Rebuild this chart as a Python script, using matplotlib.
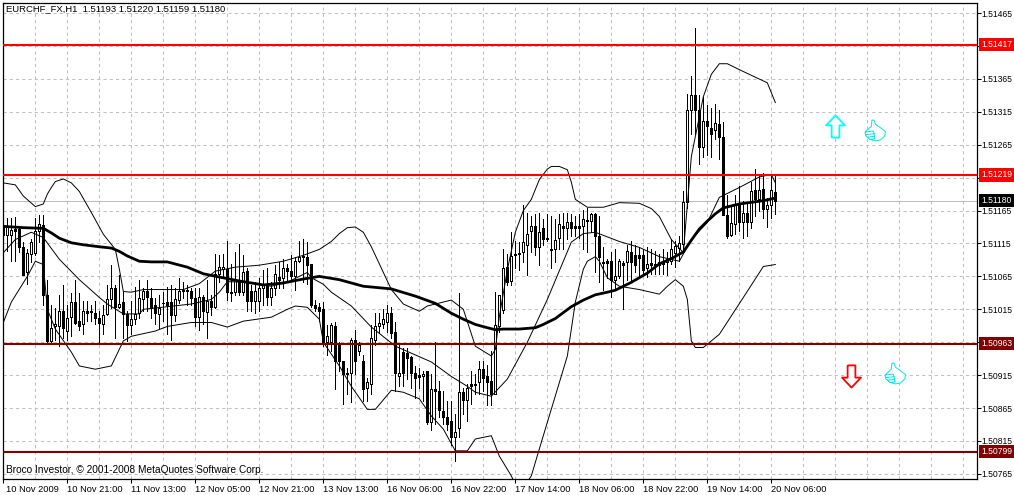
import matplotlib
matplotlib.use("Agg")
import matplotlib.pyplot as plt
from matplotlib.path import Path
from matplotlib.transforms import ScaledTranslation, blended_transform_factory

BASE = 1.5
PT = 0.00001

# candles, in points above 1.50000, one hour per bar
opens = [
    1143, 1128, 1128, 1137, 1137, 1109, 1071, 1099, 1101, 1134, 1143, 1037, 967, 989, 989, 1012,
    982, 1004, 1026, 997, 992, 1013, 1012, 1009, 1002, 992, 1008, 1031, 1048, 1018, 1026, 1008,
    991, 1001, 1009, 1031, 1043, 1032, 1021, 1008, 1025, 1026, 1026, 1007, 1029, 1044, 1044, 1043,
    1032, 1004, 1034, 1011, 1027, 1018, 1068, 1076, 1076, 1042, 1042, 1059, 1042, 1073, 1043, 1028,
    1028, 1047, 1052, 1034, 1047, 1064, 1062, 1078, 1073, 1066, 1088, 1096, 1094, 1084, 1022, 1019,
    1016, 966, 966, 990, 964, 936, 916, 919, 969, 952, 936, 896, 901, 969, 989, 993,
    996, 1009, 981, 914, 950, 949, 942, 919, 915, 914, 921, 844, 894, 891, 861, 851,
    845, 821, 834, 889, 877, 901, 900, 904, 924, 914, 906, 886, 989, 1014, 1079, 1058,
    1099, 1100, 1102, 1112, 1134, 1142, 1110, 1138, 1123, 1107, 1107, 1123, 1142, 1139, 1148, 1141,
    1141, 1141, 1151, 1149, 1159, 1126, 1087, 1088, 1089, 1059, 1066, 1086, 1087, 1102, 1097, 1097,
    1097, 1077, 1085, 1084, 1083, 1087, 1087, 1089, 1100, 1108, 1114, 1178, 1317, 1340, 1317, 1262,
    1301, 1291, 1288, 1296, 1276, 1158, 1128, 1145, 1175, 1148, 1162, 1147, 1196, 1182, 1198, 1167,
    1173, 1193,
]
highs = [
    1144, 1154, 1153, 1155, 1142, 1117, 1107, 1122, 1154, 1158, 1158, 1059, 1022, 1017, 1037, 1052,
    1022, 1039, 1059, 1039, 1027, 1027, 1022, 1027, 1012, 1022, 1052, 1083, 1052, 1067, 1042, 1012,
    1027, 1049, 1059, 1047, 1059, 1047, 1032, 1037, 1042, 1049, 1052, 1047, 1062, 1057, 1052, 1047,
    1047, 1047, 1037, 1059, 1037, 1099, 1097, 1099, 1118, 1084, 1102, 1114, 1097, 1077, 1052, 1057,
    1062, 1074, 1077, 1057, 1082, 1087, 1092, 1084, 1097, 1094, 1119, 1122, 1117, 1084, 1029, 1024,
    1026, 991, 994, 996, 966, 936, 926, 971, 984, 966, 946, 911, 991, 1009, 1009, 1016,
    1021, 1019, 996, 961, 956, 956, 944, 929, 926, 921, 921, 916, 966, 906, 891, 876,
    876, 856, 1040, 896, 901, 921, 916, 936, 936, 931, 951, 1041, 1037, 1107, 1099, 1133,
    1119, 1117, 1174, 1162, 1157, 1159, 1161, 1152, 1159, 1157, 1152, 1159, 1161, 1161, 1159, 1157,
    1159, 1166, 1169, 1161, 1161, 1157, 1109, 1092, 1102, 1107, 1092, 1089, 1112, 1119, 1112, 1109,
    1107, 1110, 1107, 1104, 1099, 1107, 1102, 1122, 1119, 1127, 1194, 1342, 1370, 1443, 1340, 1337,
    1326, 1320, 1327, 1317, 1299, 1189, 1174, 1189, 1202, 1179, 1177, 1209, 1228, 1219, 1222, 1184,
    1219, 1220,
]
lows = [
    1117, 1104, 1089, 1089, 1102, 1067, 1054, 1087, 1097, 1117, 1022, 962, 962, 969, 959, 972,
    969, 974, 992, 984, 977, 997, 997, 992, 962, 977, 1007, 1017, 972, 1017, 972, 967,
    977, 992, 1002, 1012, 1012, 1002, 992, 987, 997, 977, 969, 997, 1024, 1032, 1022, 1022,
    989, 984, 992, 972, 1007, 1017, 1057, 1064, 1029, 1027, 1037, 1037, 1037, 1012, 1012, 1009,
    1012, 1022, 1022, 1022, 1037, 1047, 1047, 1057, 1059, 1044, 1087, 1057, 1054, 1019, 1012, 997,
    959, 946, 951, 894, 921, 871, 886, 874, 916, 946, 876, 876, 886, 961, 979, 986,
    981, 971, 891, 899, 899, 909, 896, 881, 896, 876, 841, 831, 841, 851, 841, 831,
    809, 784, 821, 856, 846, 871, 886, 886, 891, 869, 869, 886, 981, 1009, 1052, 1052,
    1077, 1074, 1087, 1067, 1102, 1097, 1082, 1112, 1119, 1077, 1087, 1107, 1107, 1122, 1127, 1127,
    1124, 1107, 1102, 1132, 1072, 1057, 1044, 1062, 1034, 1044, 1062, 1016, 1059, 1057, 1072, 1062,
    1067, 1064, 1069, 1069, 1069, 1069, 1067, 1084, 1079, 1089, 1104, 1169, 1282, 1282, 1236, 1247,
    1250, 1247, 1274, 1244, 1158, 1123, 1127, 1129, 1134, 1123, 1127, 1139, 1157, 1164, 1154, 1140,
    1154, 1159,
]
closes = [
    1128, 1141, 1135, 1134, 1109, 1067, 1100, 1117, 1134, 1144, 1037, 967, 987, 992, 1012, 987,
    1002, 1026, 994, 989, 1013, 1010, 1011, 1002, 994, 1007, 1031, 1048, 1018, 1023, 1008, 991,
    1001, 1008, 1032, 1043, 1034, 1017, 1009, 1017, 1024, 1022, 1006, 1031, 1043, 1043, 1043, 1032,
    1004, 1034, 1012, 1028, 1019, 1068, 1079, 1079, 1041, 1039, 1059, 1041, 1072, 1028, 1028, 1043,
    1047, 1052, 1034, 1047, 1068, 1059, 1078, 1073, 1066, 1088, 1094, 1094, 1082, 1022, 1017, 1012,
    966, 975, 991, 936, 936, 916, 919, 969, 936, 961, 894, 904, 971, 989, 994, 1000,
    1010, 979, 919, 919, 919, 941, 919, 911, 912, 916, 844, 894, 891, 862, 851, 841,
    821, 829, 889, 877, 895, 898, 902, 924, 911, 904, 886, 991, 1036, 1078, 1057, 1096,
    1097, 1099, 1117, 1130, 1141, 1109, 1132, 1122, 1122, 1105, 1120, 1144, 1138, 1148, 1139, 1139,
    1139, 1152, 1149, 1159, 1126, 1094, 1086, 1086, 1059, 1066, 1088, 1083, 1104, 1087, 1082, 1093,
    1074, 1084, 1083, 1083, 1087, 1084, 1092, 1106, 1111, 1116, 1178, 1317, 1340, 1318, 1262, 1301,
    1294, 1281, 1298, 1276, 1158, 1127, 1146, 1173, 1148, 1162, 1147, 1194, 1182, 1196, 1167, 1174,
    1196, 1180,
]

# thick moving average
ma_idx = [0, 5, 10, 12, 14, 17, 20, 24, 27, 29, 31, 34, 37, 41, 46, 50, 54, 59, 65, 70, 75, 79, 84, 90, 97, 103,
          108, 112, 115, 118, 121, 123, 125, 129, 133, 135, 138, 140, 142, 145, 148, 151, 153, 155, 157, 159, 161, 164,
          167, 170, 172, 174, 176, 178, 180, 184, 190, 193]
ma_val = [1141, 1139, 1138, 1131, 1123, 1116, 1113, 1110, 1108, 1103, 1096, 1088, 1087, 1087, 1079, 1069, 1064, 1058, 1052, 1055, 1061, 1065, 1060, 1050, 1046, 1035,
          1024, 1009, 1000, 992, 987, 984, 985, 985, 987, 992, 1001, 1010, 1019, 1029, 1037, 1041, 1044, 1050, 1056, 1063, 1070, 1084,
          1092, 1102, 1120, 1137, 1149, 1160, 1169, 1175, 1180, 1184]

# thin bands
upper_idx = [0, 3, 5, 8, 10, 11, 12, 13, 15, 17, 19, 22, 25, 28, 29, 30, 32, 35, 45, 49, 53, 58, 64, 70, 75, 79, 82, 84, 86, 88, 90, 92, 97, 100, 104, 106, 112,
             115, 118, 122, 123, 124, 126, 128, 130, 132, 134, 136, 137, 139, 141, 142, 143, 146, 150, 154, 159, 162, 164, 167, 170, 172, 175, 177, 179, 181, 184, 191, 193]
upper_val = [1207, 1204, 1187, 1171, 1175, 1190, 1200, 1209, 1213, 1207, 1194, 1162, 1129, 1106, 1076, 1042, 1041, 1045, 1045, 1054, 1073, 1079, 1082, 1088, 1097, 1106, 1118, 1130, 1139, 1140, 1132, 1110, 1045, 1023, 1012, 1020, 1029,
             1015, 959, 944, 954, 1004, 1075, 1132, 1165, 1182, 1212, 1228, 1232, 1232, 1227, 1208, 1182, 1170, 1170, 1177, 1176, 1168, 1156, 1121, 1101, 1247, 1338, 1372, 1388, 1388, 1379, 1359, 1329]
middle_idx = [0, 3, 7, 10, 14, 19, 24, 26, 30, 34, 35, 47, 52, 54, 56, 61, 67, 71, 76, 77, 80, 82, 87, 92, 98, 107, 112, 116, 118, 122,
              126, 131, 136, 142, 145, 148, 154, 159, 164, 169, 172, 176, 179, 184, 189, 192, 193]
middle_val = [1101, 1121, 1132, 1124, 1091, 1060, 1033, 1023, 1008, 1008, 1015, 1023, 1030, 1041, 1057, 1056, 1050, 1056, 1071, 1063, 1053, 1041, 1020, 988, 959, 935, 913, 898, 889, 883,
              909, 965, 1030, 1117, 1130, 1132, 1118, 1109, 1095, 1088, 1121, 1147, 1185, 1200, 1216, 1220, 1207]
lower_idx = [0, 2, 6, 8, 10, 11, 13, 17, 19, 23, 27, 30, 32, 38, 41, 47, 52, 56, 60, 67, 71, 73, 76, 79, 80, 84, 87, 91, 93, 97, 100, 104, 107, 110,
             113, 116, 118, 122, 124, 127, 129, 132, 134, 141, 143, 145, 146, 148, 149, 151, 154, 159, 164, 166, 168, 170, 171, 172, 173, 175, 179, 185, 190, 193]
lower_val = [995, 1026, 1065, 1088, 1083, 1015, 985, 950, 929, 924, 929, 967, 974, 982, 989, 995, 995, 988, 997, 1003, 1015, 1020, 1018, 1000, 965, 929, 898, 863, 863, 892, 889, 879, 853, 833,
             800, 800, 818, 823, 792, 762, 735, 762, 803, 944, 1026, 1076, 1088, 1095, 1088, 1063, 1050, 1045, 1038, 1050, 1060, 1050, 1030, 967, 957, 957, 977, 1033, 1080, 1083]

# price levels and labels
red_levels = [1.51417, 1.51219]
dark_levels = [1.50963, 1.50799]
last_price = 1.51180
y_ticks = [1.51465, 1.51415, 1.51365, 1.51315, 1.51265, 1.51215, 1.51165, 1.51115, 1.51065,
           1.51015, 1.50965, 1.50915, 1.50865, 1.50815, 1.50765]
hidden_ticks = [1.51415, 1.51215, 1.50965]  # sit behind the level boxes
date_labels = ["10 Nov 2009", "10 Nov 21:00", "11 Nov 13:00", "12 Nov 05:00", "12 Nov 21:00",
               "13 Nov 13:00", "16 Nov 06:00", "16 Nov 22:00", "17 Nov 14:00", "18 Nov 06:00",
               "18 Nov 22:00", "19 Nov 14:00", "20 Nov 06:00"]


def price(points):
    return [BASE + p * PT for p in points]


def shape(parts):
    verts, codes = [], []
    for part in parts:
        verts += part
        codes += [Path.MOVETO] + [Path.LINETO] * (len(part) - 1)
    return Path(verts, codes)


up_arrow = shape([[(-0.35, -1), (0.35, -1), (0.35, 0.1), (0.85, 0.1), (0, 1), (-0.85, 0.1), (-0.35, 0.1), (-0.35, -1)]])
down_arrow = shape([[(-0.35, 1), (0.35, 1), (0.35, -0.1), (0.85, -0.1), (0, -1), (-0.85, -0.1), (-0.35, -0.1), (-0.35, 1)]])
thumb = shape([
    [(-0.35, 1), (-0.15, 1), (0, 0.6), (0.5, 0.25), (0.95, -0.1), (0.9, -0.5), (0.5, -0.9), (0, -1),
     (-0.55, -0.85), (-0.95, -0.5), (-1, -0.15), (-0.7, 0.15), (-0.4, 0.4), (-0.35, 1)],
    [(-1, -0.15), (-0.2, -0.05)], [(-0.95, -0.4), (-0.1, -0.3)], [(-0.8, -0.65), (-0.05, -0.55)],
    [(-0.55, -0.85), (0, -0.8)], [(-0.2, -0.05), (-0.05, -0.8)],
])

plt.rcParams["font.family"] = ["Liberation Sans", "DejaVu Sans"]
fig = plt.figure(figsize=(10.14, 4.95), dpi=100)
ax = fig.add_axes([2.5 / 1014, 16.5 / 495, 974 / 1014, 476 / 495])

x = list(range(len(opens)))
ax.vlines(x, price(lows), price(highs), color="black", lw=0.7, zorder=2, antialiased=False)
bottoms = [BASE + min(o, c) * PT for o, c in zip(opens, closes)]
heights = [abs(c - o) * PT for o, c in zip(opens, closes)]
colors = ["white" if c >= o else "black" for o, c in zip(opens, closes)]
ax.bar(x, heights, bottom=bottoms, width=0.55, color=colors, edgecolor="black", lw=0.7, zorder=3, antialiased=False)

ax.plot(upper_idx, price(upper_val), color="black", lw=0.7, zorder=4)
ax.plot(middle_idx, price(middle_val), color="black", lw=0.7, zorder=4)
ax.plot(lower_idx, price(lower_val), color="black", lw=0.7, zorder=4)
ax.plot(ma_idx, price(ma_val), color="black", lw=2.0, zorder=5)

ax.axhline(last_price, color="#c0c0c0", lw=0.75, zorder=1.5)
for level in red_levels:
    ax.axhline(level, color="#ff0000", lw=1.5, zorder=6)
for level in dark_levels:
    ax.axhline(level, color="#800000", lw=1.5, zorder=6)

ax.plot([208], [BASE + 1294 * PT], marker=up_arrow, ms=16, mfc="white", mec="#00ffff", mew=1.3, ls="none", zorder=7)
ax.plot([212], [BASE + 913 * PT], marker=down_arrow, ms=16, mfc="white", mec="#ff0000", mew=1.3, ls="none", zorder=7)
ax.plot([218, 223], [BASE + 1288 * PT, BASE + 918 * PT], marker=thumb, ms=15, mfc="white", mec="#00e8e8",
        mew=0.7, ls="none", zorder=7)

ax.set_xlim(-0.21, 243.29)
ax.set_ylim(BASE + 758 * PT, BASE + 1481 * PT)

ax.yaxis.tick_right()
ax.set_yticks(y_ticks)
ax.set_yticklabels(["" if t in hidden_ticks else f"{t:.5f}" for t in y_ticks])
ax.set_xticks(range(0, 16 * len(date_labels), 16))
ax.set_xticklabels(date_labels, ha="left")
ax.set_xticks(range(0, 244, 8), minor=True)
ax.tick_params(axis="y", which="major", length=3, width=0.75, labelsize=6.2, pad=0.5)
ax.tick_params(axis="x", which="major", length=3, width=0.75, labelsize=6.7, pad=2)
ax.tick_params(axis="x", which="minor", length=0)
ax.grid(True, which="both", color="#c0c0c0", lw=0.75, ls=(0, (3, 3)), zorder=1)
ax.set_axisbelow(True)
for spine in ax.spines.values():
    spine.set_linewidth(0.9)

first = ax.get_xticklabels()[0]
first.set_transform(first.get_transform() + ScaledTranslation(3 / 100, 0, fig.dpi_scale_trans))

# price boxes on the right
trans = blended_transform_factory(ax.transAxes, ax.transData)
boxes = [(l, "#ff0000") for l in red_levels] + [(l, "#800000") for l in dark_levels] + [(last_price, "black")]
for level, box_color in boxes:
    ax.text(1.0046, level, f"{level:.5f}", transform=trans, color="white", fontsize=6.2, va="center", ha="left",
            clip_on=False, zorder=10, bbox=dict(boxstyle="square,pad=0.25", fc=box_color, ec="none"))

fig.text(6 / 1014, 1 - 9 / 495, "EURCHF_FX,H1  1.51193 1.51220 1.51159 1.51180", fontsize=6.8, va="center", ha="left")
fig.text(6 / 1014, 1 - 470 / 495, "Broco Investor, © 2001-2008 MetaQuotes Software Corp.", fontsize=7.3, va="center", ha="left")

fig.savefig("out.png", dpi=100)
